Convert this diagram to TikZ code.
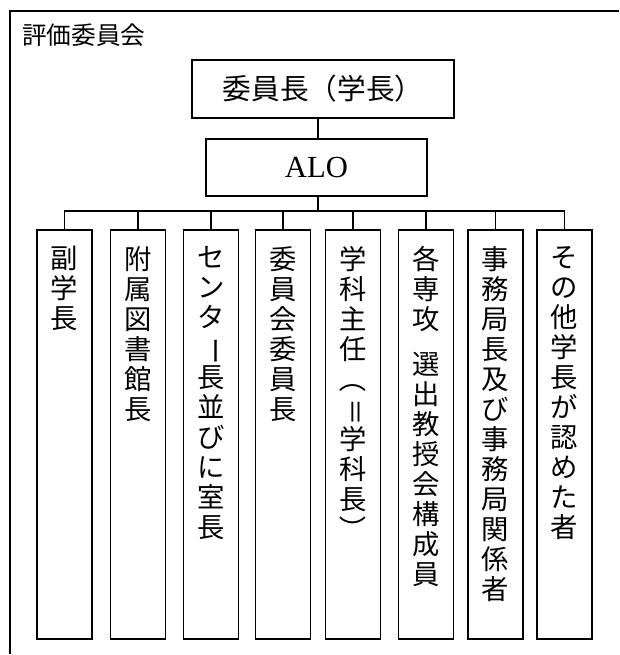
\documentclass[tikz,border=0pt]{standalone}
\usepackage{fontspec}
\usepackage{graphicx}
\setmainfont{Liberation Serif}
\newfontfamily\cjk{Noto Sans CJK JP}
\newcommand{\rot}[1]{\rotatebox[origin=c]{-90}{#1}}
\begin{document}
\begin{tikzpicture}[x=0.75pt,y=-0.75pt,
  box/.style={draw, line width=1.1pt, inner sep=0pt},
  vbox/.style={box, minimum width=41.25pt, minimum height=306.75pt},
  vtext/.style={anchor=north, inner sep=0pt, align=center,
    font=\cjk\fontsize{20.5pt}{22.5pt}\selectfont},
  conn/.style={line width=1.1pt},
  frame/.style={line width=1.5pt}]
\useasboundingbox (0,0) rectangle (619,655);
\draw[frame] (619,11) -- (10,11) -- (10,654);
\node[anchor=west, inner sep=0pt, font=\cjk\fontsize{18.5pt}{20pt}\selectfont] (title) at (22,35) {評価委員会};
\node[box, minimum width=196.5pt, minimum height=43.5pt, font=\cjk\fontsize{21.5pt}{22pt}\selectfont] (chair) at (323,89) {委員長（学長）};
\node[box, minimum width=165.75pt, minimum height=42.75pt, font=\fontsize{23pt}{24pt}\selectfont] (alo) at (316.5,167.5) {ALO};
\coordinate (bus) at (318,211);
\foreach \i/\x in {1/64.5,2/138,3/211,4/283,5/353,6/426,7/495.5,8/564.5}{
  \node[vbox] (b\i) at (\x,434.5) {};
}
\node[vtext] (t1) at ([yshift=-12.5pt]b1.north) {副\\学\\長};
\node[vtext] (t2) at ([yshift=-12.5pt]b2.north) {附\\属\\図\\書\\館\\長};
\node[vtext] (t3) at ([yshift=-12.5pt]b3.north) {セ\\ン\\タ\\\rot{ー}\\長\\並\\び\\に\\室\\長};
\node[vtext] (t4) at ([yshift=-12.5pt]b4.north) {委\\員\\会\\委\\員\\長};
\node[vtext] (t5) at ([yshift=-12.5pt]b5.north) {学\\科\\主\\任\\\rot{（}\\\rot{＝}\\学\\科\\長\\\rot{）}};
\node[vtext] (t6) at ([yshift=-12.5pt]b6.north) {各\\専\\攻\\[11.25pt]選\\出\\教\\授\\会\\構\\成\\員};
\node[vtext] (t7) at ([yshift=-12.5pt]b7.north) {事\\務\\局\\長\\及\\び\\事\\務\\局\\関\\係\\者};
\node[vtext] (t8) at ([yshift=-12.5pt]b8.north) {そ\\の\\他\\学\\長\\が\\認\\め\\た\\者};
\draw[conn] (chair.south -| bus) -- (alo.north -| bus);
\draw[conn] (alo.south -| bus) -- (bus);
\draw[conn] (b1.north) -- (b1.north |- bus) -- (b8.north |- bus) -- (b8.north);
\foreach \i in {2,...,7}{
  \draw[conn] (b\i.north) -- (b\i.north |- bus);
}
\end{tikzpicture}
\end{document}
